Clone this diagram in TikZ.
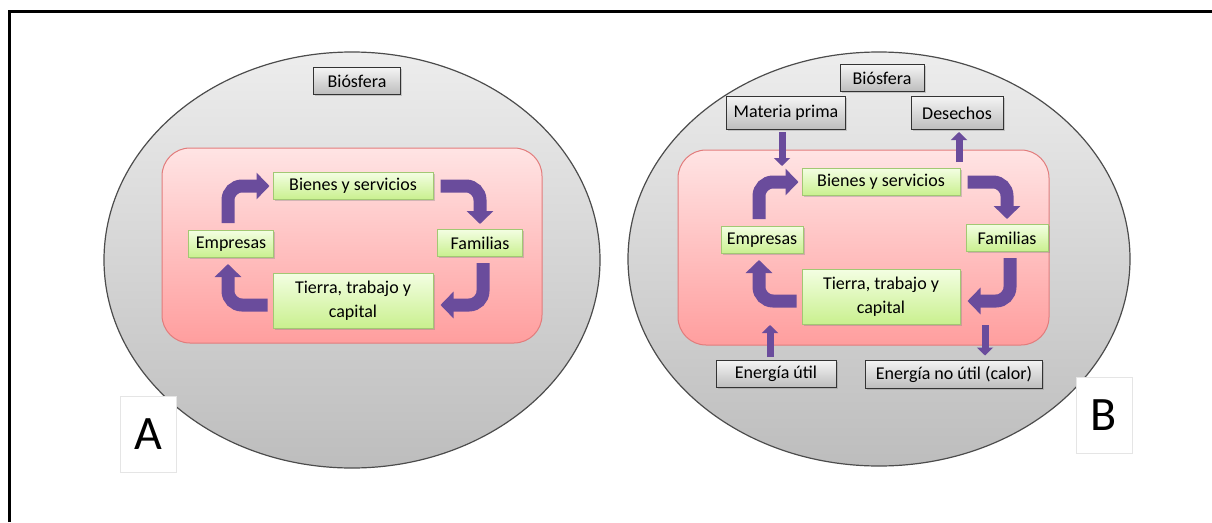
\documentclass[tikz,border=0pt]{standalone}
\usepackage{fontspec}
\setmainfont{Carlito}
\usepackage{tikz}
\usetikzlibrary{arrows.meta,shadows,positioning}

\definecolor{arrowpurple}{HTML}{6A4C9C}
\definecolor{greentop}{HTML}{F3FEE2}
\definecolor{greenbot}{HTML}{C9F08E}
\definecolor{greenline}{HTML}{A2C873}
\definecolor{greytop}{HTML}{F4F4F4}
\definecolor{greybot}{HTML}{BDBDBD}
\definecolor{pinktop}{HTML}{FFE4E4}
\definecolor{pinkbot}{HTML}{FF9E9E}
\definecolor{pinkline}{HTML}{E27C7C}
\definecolor{globetop}{HTML}{EDEDED}
\definecolor{globebot}{HTML}{BDBDBD}

\tikzset{
  agent/.style={draw=greenline, line width=1pt, top color=greentop, bottom color=greenbot,
    inner sep=0pt, minimum height=27pt, align=center,
    font=\fontsize{18}{24}\selectfont,
    drop shadow={shadow xshift=1.5pt, shadow yshift=-1.5pt, opacity=0.35}},
  outside/.style={draw=black!80, line width=1pt, top color=greytop, bottom color=greybot,
    inner sep=0pt, minimum height=27pt, align=center,
    font=\fontsize{18}{24}\selectfont,
    drop shadow={shadow xshift=1.5pt, shadow yshift=-1.5pt, opacity=0.35}},
  globe/.style={draw=black!70, line width=1.2pt, top color=globetop, bottom color=globebot},
  market/.style={draw=pinkline, line width=1pt, top color=pinktop, bottom color=pinkbot,
    rounded corners=28pt},
  tag/.style={draw=black!10, fill=white, inner sep=0pt, minimum width=56pt,
    minimum height=76pt, font=\fontsize{48}{48}\selectfont},
  flow/.style={draw=arrowpurple, line width=13pt, rounded corners=14pt,
    -{Triangle[length=13pt,width=26pt]}},
  tap/.style={draw=arrowpurple, line width=7pt, -{Triangle[length=8pt,width=16pt]}},
}

\begin{document}
\begin{tikzpicture}[x=1pt, y=-1pt]
         \useasboundingbox (0,0) rectangle (1212,522);
         \draw [line width=3pt] (9,522) -- (9,11) -- (1212,11);

         % panel A
         \draw [globe] (352,260) ellipse [x radius=248pt, y radius=208pt];
         \draw [market] (162,148) rectangle (542,343);
         \node [outside, minimum width=87pt] (BioA) at (357,81) {Biósfera};
         \node [agent, minimum width=160pt] (BieA) at (353,186) {Bienes y servicios};
         \node [agent, minimum width=85pt] (EmpA) at (231,244) {Empresas};
         \node [agent, minimum width=85pt] (FamA) at (480,243) {Familias};
         \node [agent, minimum width=160pt, minimum height=55pt] (TieA) at (353,301) {Tierra, trabajo y\\capital};
         \draw [flow, shorten <=7pt, shorten >=3pt] ([xshift=-3pt]EmpA.north) |- (BieA.west);
         \draw [flow, shorten <=7pt, shorten >=5pt] (BieA.east) -| (FamA.north);
         \draw [flow, shorten <=6pt, shorten >=7pt] ([xshift=3pt]FamA.south) |- ([yshift=-4pt]TieA.east);
         \draw [flow, shorten <=5pt, shorten >=6pt] ([yshift=-4pt]TieA.west) -| ([xshift=-3pt]EmpA.south);
         \node [tag] (LabA) at (148,434) {A};

         % panel B
         \draw [globe] (879,259) ellipse [x radius=251pt, y radius=207pt];
         \draw [market] (678,150) rectangle (1049,345);
         \node [outside, minimum width=84pt] (BioB) at (882,78) {Biósfera};
         \node [outside, minimum width=119pt, minimum height=33pt] (MatB) at (786,113) {Materia prima};
         \node [outside, minimum width=92pt, minimum height=33pt] (DesB) at (957,113) {Desechos};
         \node [agent, minimum width=158pt] (BieB) at (881,182) {Bienes y servicios};
         \node [agent, minimum width=82pt] (EmpB) at (762,240) {Empresas};
         \node [agent, minimum width=82pt] (FamB) at (1007,238) {Familias};
         \node [agent, minimum width=158pt, minimum height=55pt] (TieB) at (881,297) {Tierra, trabajo y\\capital};
         \node [outside, minimum width=120pt] (UtiB) at (776,374) {Energía útil};
         \node [outside, minimum width=177pt, minimum height=28pt] (CalB) at (954,374) {Energía no útil (calor)};
         \coordinate (inB) at (782,166);
         \coordinate (outB) at (959,162);
         \coordinate (useB) at (770,325);
         \coordinate (lossB) at (985,325);
         \draw [flow, shorten <=7pt, shorten >=3pt] ([xshift=-3pt]EmpB.north) |- (BieB.west);
         \draw [flow, shorten <=7pt, shorten >=5pt] (BieB.east) -| (FamB.north);
         \draw [flow, shorten <=6pt, shorten >=7pt] ([xshift=3pt]FamB.south) |- ([yshift=-4pt]TieB.east);
         \draw [flow, shorten <=5pt, shorten >=6pt] ([yshift=-4pt]TieB.west) -| ([xshift=-3pt]EmpB.south);
         \draw [tap, shorten <=2pt] (MatB.south -| inB) -- (inB);
         \draw [tap, shorten >=2pt] (outB) -- (DesB.south -| outB);
         \draw [tap, shorten <=3pt] (UtiB.north -| useB) -- (useB);
         \draw [tap, shorten >=4pt] (lossB) -- (CalB.north -| lossB);
         \node [tag] (LabB) at (1104,415) {B};
\end{tikzpicture}
\end{document}
